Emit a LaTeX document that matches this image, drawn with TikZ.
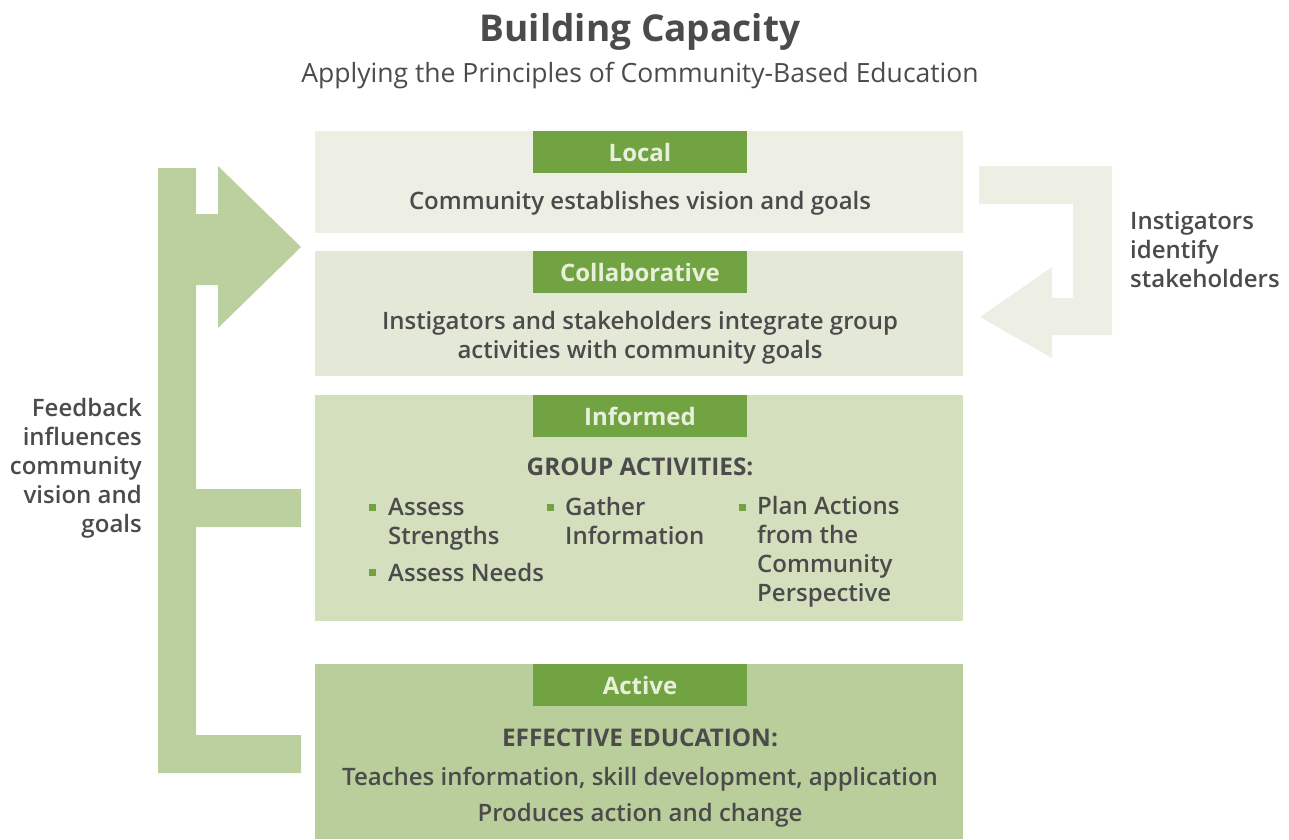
\documentclass[tikz,border=0pt]{standalone}
\usepackage{fontspec}
\setmainfont{Open Sans}
\IfFontExistsTF{Open Sans SemiBold}{\newfontfamily\semi{Open Sans SemiBold}}{%
  \IfFontExistsTF{Open Sans Semibold}{\newfontfamily\semi{Open Sans Semibold}}{%
    \newfontfamily\semi{Open Sans}[FakeBold=3]}}
\definecolor{txt}{HTML}{4B4B4B}
\definecolor{cLocal}{HTML}{EDEFE5}
\definecolor{cCollab}{HTML}{E4E9D7}
\definecolor{cInformed}{HTML}{D4DFBD}
\definecolor{cActive}{HTML}{BACE9C}
\definecolor{cLabel}{HTML}{72A342}
\definecolor{cLabelTxt}{HTML}{E8F0DC}
\definecolor{cLeft}{HTML}{BCCF9F}
\definecolor{cRight}{HTML}{EDEFE5}
\definecolor{cBullet}{HTML}{72A342}
\tikzset{
  panel/.style={draw=none, anchor=north west, inner sep=0pt},
  tag/.style={draw=none, fill=cLabel, anchor=north west, inner sep=0pt,
    minimum width=214pt, minimum height=42pt},
  tagtext/.style={text=cLabelTxt, inner sep=0pt, anchor=base, font=\fontsize{24}{26}\selectfont\bfseries},
  body/.style={text=txt, inner sep=0pt, anchor=base, font=\fontsize{24}{29}\selectfont\semi, align=center},
  head/.style={text=txt, inner sep=0pt, anchor=base, font=\fontsize{24.3}{29}\selectfont\bfseries},
  item/.style={text=txt, inner sep=0pt, anchor=base west, font=\fontsize{24}{29}\selectfont\semi, align=left},
  bul/.style={fill=cBullet, draw=none, minimum size=7pt, inner sep=0pt},
}
\begin{document}
\begin{tikzpicture}[x=1pt,y=-1pt]
\useasboundingbox (0,0) rectangle (1289,839);
% title
\node[text=txt, inner sep=0pt, anchor=base, font=\fontsize{37}{40}\selectfont\bfseries] (title) at (640,41) {Building Capacity};
\node[text=txt, inner sep=0pt, anchor=base, font=\fontsize{26.5}{30}\selectfont] (subtitle) at (640,82) {Applying the Principles of Community-Based Education};
% panels
\node[panel, fill=cLocal, minimum width=648pt, minimum height=102pt] (local) at (315,131) {};
\node[panel, fill=cCollab, minimum width=648pt, minimum height=125pt] (collab) at (315,251) {};
\node[panel, fill=cInformed, minimum width=648pt, minimum height=226pt] (informed) at (315,395) {};
\node[panel, fill=cActive, minimum width=648pt, minimum height=175pt] (active) at (315,664) {};
% tags
\node[tag] (tLocal) at (533,131) {};
\node[tag] (tCollab) at (533,251) {};
\node[tag] (tInformed) at (533,395) {};
\node[tag] (tActive) at (533,664) {};
\node[tagtext] (lLocal) at (640,161.5) {Local};
\node[tagtext] (lCollab) at (640,281.5) {Collaborative};
\node[tagtext] (lInformed) at (640,425.5) {Informed};
\node[tagtext] (lActive) at (640,694.5) {Active};
% texts (multi-line nodes: base = last line)
\node[body] (xLocal) at (640,209) {Community establishes vision and goals};
\node[body] (xCollab) at (640,358) {Instigators and stakeholders integrate group\\activities with community goals};
\node[head] (xGroup) at (640,475) {GROUP ACTIVITIES:};
\node[head] (xEff) at (640,746) {EFFECTIVE EDUCATION:};
\node[body] (xTeach) at (640,785) {Teaches information, skill development, application};
\node[body] (xProd) at (640,821) {Produces action and change};
% bullets
\node[bul] (b1) at (372,507) {};
\node[item] (i1) at (388,544) {Assess\\Strengths};
\node[bul] (b2) at (372,572) {};
\node[item] (i2) at (388,581) {Assess Needs};
\node[bul] (b3) at (550,507) {};
\node[item] (i3) at (565,544) {Gather\\Information};
\node[bul] (b4) at (742,507) {};
\node[item] (i4) at (757,601) {Plan Actions\\from the\\Community\\Perspective};
% left feedback shape
\fill[cLeft] (158,168) -- (196,168) -- (196,214) -- (218,214) -- (218,166) -- (301,247)
  -- (218,328) -- (218,285) -- (196,285) -- (196,489) -- (301,489) -- (301,527)
  -- (196,527) -- (196,735) -- (301,735) -- (301,773) -- (158,773) -- cycle;
% right shape
\fill[cRight] (979,166) -- (1112,166) -- (1112,335) -- (1052,335) -- (1052,358)
  -- (980,317) -- (1052,267) -- (1052,298) -- (1073,298) -- (1073,204) -- (979,204) -- cycle;
% side labels
\node[text=txt, inner sep=0pt, anchor=base west, align=left, font=\fontsize{24}{29}\selectfont\semi] (instig) at (1130,287) {Instigators\\identify\\stakeholders};
\node[text=txt, inner sep=0pt, anchor=base east, align=right, font=\fontsize{24}{29}\selectfont\semi] (feedback) at (142,532) {Feedback\\influences\\community\\vision and\\goals};
\end{tikzpicture}
\end{document}
